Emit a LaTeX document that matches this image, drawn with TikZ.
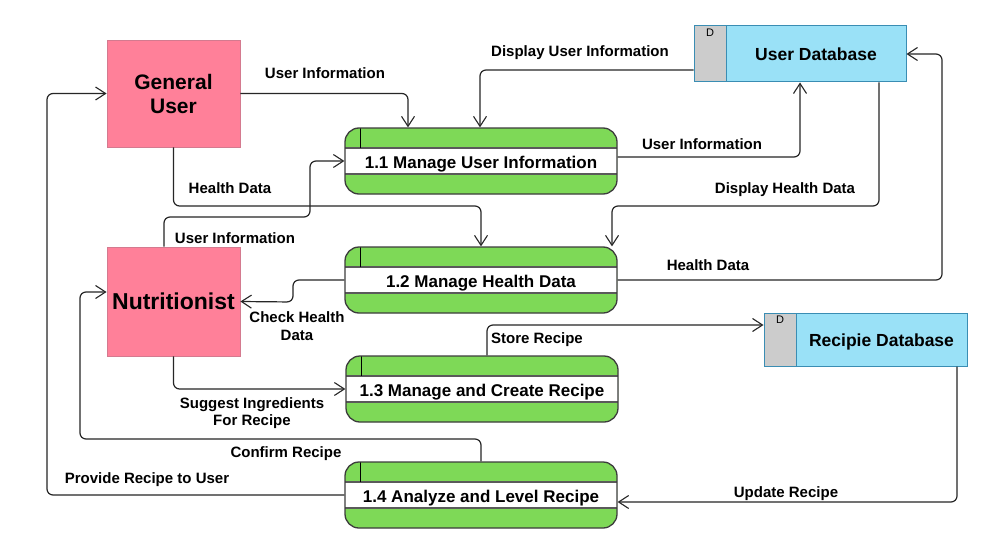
\documentclass[tikz,border=0pt]{standalone}
\usepackage{fontspec}
\setmainfont{Liberation Sans}
\usetikzlibrary{arrows.meta}
\definecolor{pinkfill}{HTML}{FF8099}
\definecolor{pinkline}{HTML}{D47A8F}
\definecolor{procgreen}{HTML}{7ED957}
\definecolor{procline}{HTML}{3C3C3C}
\definecolor{bandline}{HTML}{5A5A5A}
\definecolor{dbblue}{HTML}{9AE1F7}
\definecolor{dbline}{HTML}{3A8DB3}
\definecolor{dbgrey}{HTML}{CCCCCC}
\definecolor{flowline}{HTML}{262626}
\begin{document}
\begin{tikzpicture}[x=1pt,y=-1pt,
  entity/.style={draw=pinkline, line width=0.9pt, fill=pinkfill, minimum width=133pt,
    inner sep=0pt, align=center, font=\fontsize{21}{24}\selectfont\bfseries},
  proc/.style={draw=procline, line width=1.3pt, rounded corners=14pt, fill=procgreen,
    minimum width=272pt, minimum height=66pt, inner sep=0pt,
    text height=16pt, text depth=1.4pt,
    font=\fontsize{17}{18}\selectfont\bfseries,
    path picture={
      \begin{scope}[sharp corners]
      \fill[white] ([yshift=-20pt]path picture bounding box.north west) rectangle ([yshift=20pt]path picture bounding box.south east);
      \draw[bandline,line width=1.2pt] ([yshift=-20pt]path picture bounding box.north west) -- ([yshift=-20pt]path picture bounding box.north east);
      \draw[bandline,line width=1.2pt] ([yshift=20pt]path picture bounding box.south west) -- ([yshift=20pt]path picture bounding box.south east);
      \draw[black,line width=0.9pt] ([xshift=15pt]path picture bounding box.north west) -- ([xshift=15pt,yshift=-20pt]path picture bounding box.north west);
      \end{scope}
    }},
  store/.style={draw=dbline, line width=1pt, fill=dbblue, inner sep=0pt,
    text height=16pt, text depth=2pt,
    font=\fontsize{17.5}{18}\selectfont\bfseries,
    path picture={
      \fill[dbgrey] (path picture bounding box.north west) rectangle ([xshift=32pt]path picture bounding box.south west);
      \draw[dbline,line width=1pt] ([xshift=32pt]path picture bounding box.north west) -- ([xshift=32pt]path picture bounding box.south west);
    }},
  dmark/.style={font=\fontsize{11}{12}\selectfont, inner sep=0pt},
  lbl/.style={font=\fontsize{15}{17.5}\selectfont\bfseries, align=center, inner sep=0pt, yshift=-1.5pt},
  flow/.style={draw=flowline, line width=1.2pt, rounded corners=6pt,
    -{Straight Barb[length=10pt,width=13pt,line width=1.1pt]}}
]
\useasboundingbox (0,0) rectangle (1000,559);
\fill[white] (0,0) rectangle (1000,559);

% entities
\node[entity, minimum height=107pt] (gu) at (173.5,93.5) {General\\User};
\node[entity, minimum height=109pt, font=\fontsize{23}{26}\selectfont\bfseries] (nu) at (173.5,301.5) {Nutritionist};

% processes
\node[proc] (p1) at (481,161) {1.1 Manage User Information};
\node[proc] (p2) at (481,280) {1.2 Manage Health Data};
\node[proc] (p3) at (482,389) {1.3 Manage and Create Recipe};
\node[proc] (p4) at (481,495) {1.4 Analyze and Level Recipe};

% data stores
\node[store, minimum width=212pt, minimum height=56pt] (udb) at (800,54) {\hspace*{32pt}User Database};
\node[store, minimum width=203pt, minimum height=53pt] (rdb) at (865.5,339.5) {\hspace*{32pt}Recipie Database};
\node[dmark] (udbd) at (710,33) {D};
\node[dmark] (rdbd) at (780,320) {D};

% flows
\draw[flow] (gu.east) -| ([xshift=-73pt]p1.north);
\draw[flow] ([yshift=-16pt]udb.west) -| ([xshift=-1pt]p1.north);
\draw[flow] ([yshift=4pt]p1.east) -| (udb.south);
\draw[flow] ([xshift=79pt]udb.south) -- (879,206) -| ([xshift=131pt]p2.north);
\draw[flow] (p2.east) -| (942,54) -- (udb.east);
\draw[flow] (gu.south) -- (173.5,206) -| (p2.north);
\draw[flow] ([xshift=-9.5pt]nu.north) -- (164,217) -- (310,217) -- (310,161) -- (p1.west);
\draw[flow] (p2.west) -- (293,280) -- (293,302) -- (nu.east);
\draw[flow] (nu.south) -- (173.5,389) -- (p3.west);
\draw[flow] ([xshift=5pt]p3.north) -- (487,325) -- ([yshift=14.5pt]rdb.west);
\draw[flow] ([xshift=91.5pt]rdb.south) -- (957,502) -- ([yshift=-7pt]p4.east);
\draw[flow] (p4.north) -- (481,439) -- (80,439) -- (80,292) -- ([yshift=9.5pt]nu.west);
\draw[flow] (p4.west) -- (47,495) -- (47,93.5) -- (gu.west);

% labels
\node[lbl] (l1) at (325,72) {User Information};
\node[lbl] (l2) at (580,51) {Display User Information};
\node[lbl] (l3) at (702,143) {User Information};
\node[lbl] (l4) at (785,188) {Display Health Data};
\node[lbl] (l5) at (708,264) {Health Data};
\node[lbl] (l6) at (230,187) {Health Data};
\node[lbl] (l7) at (235,237) {User Information};
\node[lbl] (l8) at (297,324.5) {Check Health\\Data};
\node[lbl] (l9) at (252,411.5) {Suggest Ingredients\\For Recipe};
\node[lbl] (l10) at (537,338) {Store Recipe};
\node[lbl] (l11) at (786,492) {Update Recipe};
\node[lbl] (l12) at (286,452) {Confirm Recipe};
\node[lbl] (l13) at (147,478) {Provide Recipe to User};
\end{tikzpicture}
\end{document}
